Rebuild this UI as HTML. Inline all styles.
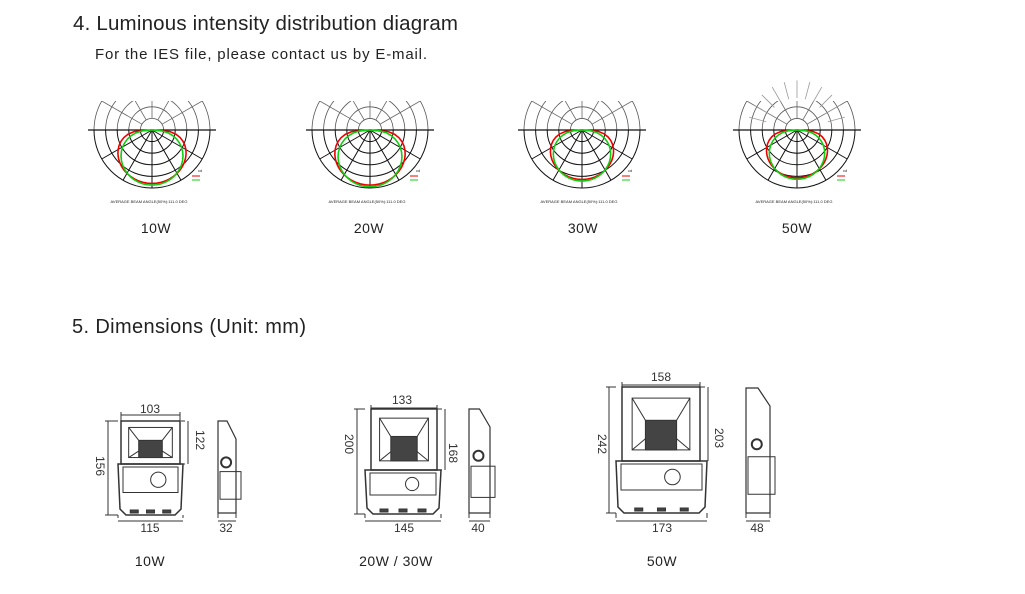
<!DOCTYPE html>
<html><head><meta charset="utf-8"><style>
body{margin:0;background:#fff;width:1025px;height:594px;overflow:hidden;font-family:"Liberation Sans",sans-serif;}
svg{position:absolute;left:0;top:0}
</style></head><body>
<svg id="s" width="1025" height="594" xmlns="http://www.w3.org/2000/svg" font-family="Liberation Sans, sans-serif">
<defs><clipPath id="cl"><rect x="0" y="101" width="1025" height="200"/></clipPath></defs>
<text x="73" y="30" font-size="20.5" fill="#222" textLength="385">4. Luminous intensity distribution diagram</text>
<text x="95" y="59" font-size="15" fill="#222" textLength="332">For the IES file, please contact us by E-mail.</text>
<text x="72" y="333" font-size="20" fill="#222" textLength="234">5. Dimensions (Unit: mm)</text>
<g font-size="14" fill="#222" text-anchor="middle" letter-spacing="0.5">
<text x="156" y="233">10W</text><text x="369" y="233">20W</text><text x="583" y="233">30W</text><text x="797" y="233">50W</text>
<text x="150" y="566">10W</text><text x="396" y="566">20W / 30W</text><text x="662" y="566">50W</text>
</g>
<g id="polar"></g>
<g id="dims" stroke="#333" fill="none" stroke-width="1"></g>
<g font-size="12" fill="#333" text-anchor="middle">
<text x="150" y="413">103</text><text x="150" y="532">115</text><text x="226" y="532">32</text>
<text x="402" y="404">133</text><text x="404" y="532">145</text><text x="478" y="532">40</text>
<text x="661" y="381">158</text><text x="662" y="532">173</text><text x="757" y="532">48</text>
<text transform="translate(96,466) rotate(90)">156</text>
<text transform="translate(196,440) rotate(90)">122</text>
<text transform="translate(345,444) rotate(90)">200</text>
<text transform="translate(449,453) rotate(90)">168</text>
<text transform="translate(598,444) rotate(90)">242</text>
<text transform="translate(715,438) rotate(90)">203</text>
</g>
</svg>
<script>
var NS="http://www.w3.org/2000/svg";
function el(p,t,a){var e=document.createElementNS(NS,t);for(var k in a)e.setAttribute(k,a[k]);p.appendChild(e);return e;}
var P=document.getElementById('polar');
var cs=[[152,'10'],[370,'20'],[582,'30'],[797,'50']];
cs.forEach(function(c,i){
 var cx=c[0],cy=130,R=58;
 var U=el(P,'g',{'clip-path':'url(#cl)'});
 for(var r=1;r<=5;r++){var rr=R*r/5;
  el(P,'path',{d:'M'+(cx-rr)+' '+cy+' A'+rr+' '+rr+' 0 0 0 '+(cx+rr)+' '+cy,stroke:'#111',fill:'none','stroke-width':1});
  el(U,'path',{d:'M'+(cx-rr)+' '+cy+' A'+rr+' '+rr+' 0 0 1 '+(cx+rr)+' '+cy,stroke:'#555',fill:'none','stroke-width':0.8});
 }
 el(P,'line',{x1:cx-R-6,y1:cy,x2:cx+R+6,y2:cy,stroke:'#111','stroke-width':1.3});
 for(var a=-90;a<=90;a+=30){var t=a*Math.PI/180;
  el(P,'line',{x1:cx,y1:cy,x2:cx+R*Math.sin(t),y2:cy+R*Math.cos(t),stroke:'#111','stroke-width':1});}
 for(var a=-60;a<=60;a+=30){var t=a*Math.PI/180;
  el(U,'line',{x1:cx+R*0.2*Math.sin(t),y1:cy-R*0.2*Math.cos(t),x2:cx+R*Math.sin(t),y2:cy-R*Math.cos(t),stroke:'#666','stroke-width':0.8});}
 if(i==3){for(var a=-75;a<=75;a+=15){var t=a*Math.PI/180;
  el(P,'line',{x1:cx+R*0.55*Math.sin(t),y1:cy-R*0.55*Math.cos(t),x2:cx+R*0.45*Math.sin(t)*1.9,y2:cy-R*0.45*Math.cos(t)*1.9,stroke:'#999','stroke-width':0.8});}}
 var k=[0.95,0.98,0.88,0.85][i];
 function curve(w,col,d){var s='M'+cx+' '+cy;for(var a=-90;a<=90;a+=5){var t=a*Math.PI/180;var v=Math.pow(Math.cos(t),w)*R*k*d;s+=' L'+(cx+v*Math.sin(t))+' '+(cy+v*Math.cos(t));}
  el(P,'path',{d:s,stroke:col,fill:'none','stroke-width':1.6});}
 curve(0.45,'#e00',0.97);curve(0.7,'#1c1',1.0);
 el(P,'text',{x:cx-3,y:cy+73,'font-size':4,fill:'#222','text-anchor':'middle'}).textContent='AVERAGE BEAM ANGLE(50%):111.0 DEG';
 el(P,'text',{x:cx+R-12,y:cy+42,'font-size':4,fill:'#222'}).textContent='cd';
 el(P,'line',{x1:cx+R-18,y1:cy+46,x2:cx+R-10,y2:cy+46,stroke:'#e00','stroke-width':1});
 el(P,'line',{x1:cx+R-18,y1:cy+50,x2:cx+R-10,y2:cy+50,stroke:'#1c1','stroke-width':1});
});
var D=document.getElementById('dims');
function lum(x1,x2,y1,ym,y2,bx1,bx2){
 el(D,'rect',{x:x1,y:y1,width:x2-x1,height:ym-y1,'stroke-width':1.5});
 var w=x2-x1,h=ym-y1;
 el(D,'rect',{x:x1+w*0.13,y:y1+h*0.15,width:w*0.74,height:h*0.7});
 el(D,'path',{d:'M'+(x1+w*0.13)+' '+(y1+h*0.15)+' L'+(x1+w*0.3)+' '+(y1+h*0.45)+' M'+(x1+w*0.87)+' '+(y1+h*0.15)+' L'+(x1+w*0.7)+' '+(y1+h*0.45)+' M'+(x1+w*0.13)+' '+(y1+h*0.85)+' L'+(x1+w*0.3)+' '+(y1+h*0.7)+' M'+(x1+w*0.87)+' '+(y1+h*0.85)+' L'+(x1+w*0.7)+' '+(y1+h*0.7)});
 el(D,'rect',{x:x1+w*0.3,y:y1+h*0.45,width:w*0.4,height:h*0.4,fill:'#444'});
 el(D,'path',{d:'M'+bx1+' '+ym+' L'+bx2+' '+ym+' L'+(bx2-2)+' '+(y2-6)+' L'+(bx2-8)+' '+y2+' L'+(bx1+8)+' '+y2+' L'+(bx1+2)+' '+(y2-6)+'Z','stroke-width':1.5});
 el(D,'rect',{x:bx1+5,y:ym+3,width:bx2-bx1-10,height:(y2-ym)*0.5});
 el(D,'circle',{cx:bx1+(bx2-bx1)*0.62,cy:ym+3+(y2-ym)*0.25,r:(y2-ym)*0.15});
 [0.25,0.5,0.75].forEach(function(f){el(D,'rect',{x:bx1+(bx2-bx1)*f-4,y:y2-5,width:8,height:3,fill:'#444'});});
}
function side(x1,x2,y1,y2){
 el(D,'path',{d:'M'+x1+' '+y1+' L'+(x1+(x2-x1)*0.5)+' '+y1+' L'+x2+' '+(y1+18)+' L'+x2+' '+y2+' L'+x1+' '+y2+' Z','stroke-width':1.2});
 el(D,'circle',{cx:x1+(x2-x1)*0.45,cy:y1+(y2-y1)*0.45,r:5,'stroke-width':2});
 el(D,'rect',{x:x1+2,y:y1+(y2-y1)*0.55,width:x2-x1+3,height:(y2-y1)*0.3});
}
function hdim(x1,x2,y,y0){el(D,'line',{x1:x1,y1:y,x2:x2,y2:y});el(D,'line',{x1:x1,y1:y-3,x2:x1,y2:y0});el(D,'line',{x1:x2,y1:y-3,x2:x2,y2:y0});}
function vdim(x,y1,y2,x0){el(D,'line',{x1:x,y1:y1,x2:x,y2:y2});el(D,'line',{x1:x-3,y1:y1,x2:x0,y2:y1});el(D,'line',{x1:x-3,y1:y2,x2:x0,y2:y2});}
lum(121,180,421,464,515,118,183);side(218,236,421,513);
hdim(121,180,415,421);hdim(118,183,521,515);hdim(218,236,521,513);vdim(108,421,515,118);vdim(188,421,464,181);
lum(371,437,409,470,514,365,441);side(469,490,409,513);
hdim(371,437,408,409);hdim(365,441,521,514);hdim(469,490,521,513);vdim(357,409,514,365);vdim(445,409,470,437);
lum(622,700,387,461,513,616,707);side(746,770,388,513);
hdim(622,700,385,387);hdim(616,707,521,513);hdim(746,770,521,513);vdim(609,387,513,616);vdim(708,387,461,700);
</script>
</body></html>
